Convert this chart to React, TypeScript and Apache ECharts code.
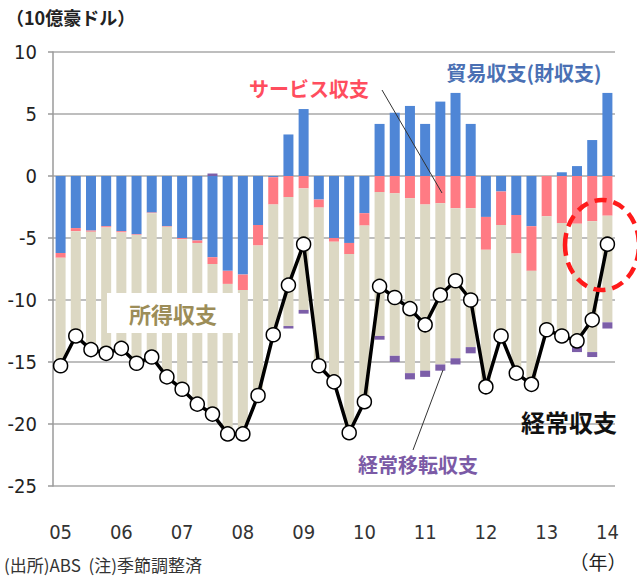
import React, { useEffect, useRef } from "react";
import * as echarts from "echarts";

const years = ["05", "06", "07", "08", "09", "10", "11", "12", "13", "14"];
const quarters: string[] = [];
for (let i = 0; i < 37; i++) {
  quarters.push(years[Math.floor(i / 4)] + "Q" + ((i % 4) + 1));
}

const trade = [-6.2, -4.2, -4.4, -4.05, -4.45, -4.7, -2.95, -4.05, -5.0, -5.2, -6.55, -7.65, -7.95, -3.95, -0.1, 3.35, 5.4, -1.9, -5.0, -5.4, -3.0, 4.2, 5.1, 5.65, 4.2, 6.0, 6.7, 4.2, -3.3, -1.25, -3.15, -4.05, 0, 0.3, 0.8, 2.9, 6.7];
const services = [-0.4, -0.25, -0.1, -0.1, -0.1, -0.05, -0.05, -0.05, -0.1, -0.2, -0.55, -1.05, -1.25, -1.65, -2.2, -1.7, -1.0, -0.65, -0.3, -0.9, -1.0, -1.3, -1.4, -1.8, -2.3, -2.2, -2.6, -2.6, -2.65, -2.7, -3.1, -3.6, -3.25, -3.8, -3.85, -3.65, -3.2];
const income = [-8.7, -8.45, -9.5, -10.15, -9.35, -10.35, -11.6, -12.1, -12.1, -13.0, -12.3, -12.1, -11.6, -12.1, -10.5, -10.4, -9.8, -12.75, -11.3, -14.4, -14.2, -11.6, -13.1, -14.1, -13.4, -13.0, -12.1, -11.2, -11.05, -8.95, -9.65, -9.15, -9.15, -9.4, -9.85, -10.55, -8.6];
const transfers = [0, 0, 0, 0, 0, 0, 0, 0, 0, 0, 0.2, 0, 0, 0, 0, -0.2, -0.3, 0, 0, 0, 0, -0.3, -0.5, -0.5, -0.5, -0.5, -0.5, -0.5, 0, 0, 0, 0, 0, 0, -0.5, -0.4, -0.5];
const current = [-15.3, -12.9, -14.0, -14.3, -13.9, -15.1, -14.6, -16.2, -17.2, -18.4, -19.2, -20.8, -20.8, -17.7, -12.8, -8.8, -5.5, -15.3, -16.6, -20.7, -18.2, -8.9, -9.8, -10.7, -12.0, -9.6, -8.45, -10.0, -17.0, -12.9, -15.9, -16.8, -12.4, -12.9, -13.3, -11.6, -5.5];

const NUM_FONT = "'Liberation Sans Narrow', 'DejaVu Sans Condensed', 'Roboto', sans-serif";
const CJK_FONT = "'Noto Sans CJK JP', 'Noto Sans', sans-serif";

export default function App() {
  const ref = useRef<HTMLDivElement>(null);
  useEffect(() => {
    if (!ref.current) return;
    const chart = echarts.init(ref.current, null, { renderer: "svg" });
    const barBase = { type: "bar" as const, stack: "a", barWidth: 10 };
    chart.setOption({
      animation: false,
      backgroundColor: "#ffffff",
      grid: { left: 53, right: 22, top: 52, bottom: 91, containLabel: false },
      xAxis: {
        type: "category",
        data: quarters,
        axisLine: { show: false },
        axisTick: { show: false },
        axisLabel: {
          interval: 0,
          margin: 36,
          fontSize: 20,
          color: "#333",
          fontFamily: NUM_FONT,
          formatter: (v: string, i: number) => (i % 4 === 0 ? v.slice(0, 2) : ""),
        },
        splitLine: { show: false },
      },
      yAxis: {
        type: "value",
        min: -25,
        max: 10,
        interval: 5,
        axisLine: { show: true, lineStyle: { color: "#9a9a9a", width: 1.5 } },
        axisTick: { show: true, length: 5, lineStyle: { color: "#9a9a9a", width: 1.5 } },
        axisLabel: { fontSize: 20, color: "#222", fontFamily: NUM_FONT, margin: 16 },
        splitLine: { show: true, lineStyle: { color: "#a8a8a8", width: 1.5 } },
      },
      series: [
        { ...barBase, name: "貿易収支", data: trade, itemStyle: { color: "#4f86d6" } },
        { ...barBase, name: "サービス収支", data: services, itemStyle: { color: "#ff7b84" } },
        { ...barBase, name: "所得収支", data: income, itemStyle: { color: "#dcd8c3" } },
        { ...barBase, name: "経常移転収支", data: transfers, itemStyle: { color: "#7c5ea8" } },
        {
          type: "line",
          name: "経常収支",
          data: current,
          z: 100,
          symbol: "circle",
          symbolSize: 14,
          lineStyle: { color: "#000", width: 3.5 },
          itemStyle: { color: "#fff", borderColor: "#000", borderWidth: 1.5 },
        },
      ],
      graphic: [
        {
          type: "text",
          left: 6,
          top: 8,
          style: { text: "（10億豪ドル）", fontSize: 18, fontWeight: "bold", fill: "#222", fontFamily: CJK_FONT },
        },
        {
          type: "rect",
          z: 50,
          shape: { x: 107, y: 293, width: 133, height: 40 },
          style: { fill: "#ffffff" },
        },
        {
          type: "text",
          z: 51,
          style: {
            x: 173, y: 313, text: "所得収支", fontSize: 22, fontWeight: "bold", fill: "#9c8d58",
            fontFamily: CJK_FONT, align: "center", verticalAlign: "middle",
          },
        },
        {
          type: "text",
          z: 51,
          style: {
            x: 309, y: 88, text: "サービス収支", fontSize: 20, fontWeight: "bold", fill: "#ff4d5e",
            fontFamily: CJK_FONT, align: "center", verticalAlign: "middle",
          },
        },
        {
          type: "line",
          z: 60,
          shape: { x1: 382, y1: 90, x2: 442, y2: 193 },
          style: { stroke: "#333", lineWidth: 1 },
        },
        {
          type: "text",
          z: 51,
          style: {
            x: 524, y: 72, text: "貿易収支(財収支)", fontSize: 20, fontWeight: "bold", fill: "#4a70b4",
            fontFamily: CJK_FONT, align: "center", verticalAlign: "middle",
          },
        },
        {
          type: "text",
          z: 51,
          style: {
            x: 569, y: 421, text: "経常収支", fontSize: 24, fontWeight: "bold", fill: "#111",
            fontFamily: CJK_FONT, align: "center", verticalAlign: "middle",
          },
        },
        {
          type: "text",
          z: 51,
          style: {
            x: 418, y: 464, text: "経常移転収支", fontSize: 20, fontWeight: "bold", fill: "#7b5aa6",
            fontFamily: CJK_FONT, align: "center", verticalAlign: "middle",
          },
        },
        {
          type: "line",
          z: 60,
          shape: { x1: 413, y1: 450, x2: 443, y2: 370 },
          style: { stroke: "#333", lineWidth: 1 },
        },
        {
          type: "ellipse",
          z: 120,
          shape: { cx: 602, cy: 245, rx: 37, ry: 45 },
          style: { fill: "none", stroke: "#ff1a1a", lineWidth: 4.5, lineDash: [12, 7] },
        },
        {
          type: "text",
          style: {
            x: 598, y: 561, text: "（年）", fontSize: 19, fill: "#222",
            fontFamily: CJK_FONT, align: "center", verticalAlign: "middle",
          },
        },
        {
          type: "text",
          style: {
            x: 4, y: 564, text: "(出所)ABS  (注)季節調整済", fontSize: 17, fill: "#333",
            fontFamily: CJK_FONT, align: "left", verticalAlign: "middle",
          },
        },
      ],
    });
    return () => chart.dispose();
  }, []);
  return (
    <div
      ref={ref}
      style={{ position: "absolute", left: 0, top: 0, width: 637, height: 577 }}
    />
  );
}
